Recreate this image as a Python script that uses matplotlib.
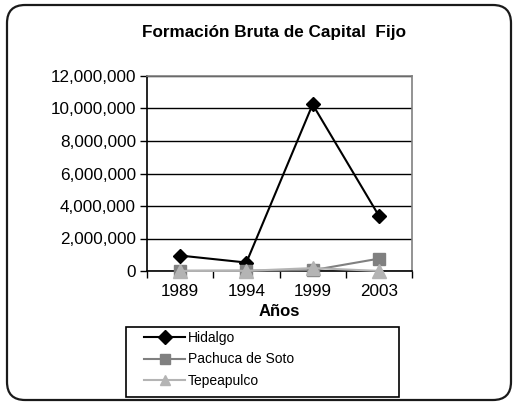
import matplotlib
matplotlib.use("Agg")
import matplotlib.pyplot as plt
from matplotlib.patches import FancyBboxPatch, Rectangle
from matplotlib.ticker import FuncFormatter, FixedLocator

plt.rcParams['font.family'] = ['Liberation Sans', 'DejaVu Sans']

years = ["1989", "1994", "1999", "2003"]
hidalgo = [950000, 520000, 10250000, 3400000]
pachuca = [10000, 20000, 50000, 760000]
tepeapulco = [5000, 10000, 180000, 5000]
series_names = ["Hidalgo", "Pachuca de Soto", "Tepeapulco"]
y_ticks = [0, 2000000, 4000000, 6000000, 8000000, 10000000, 12000000]

W, H = 518, 405
fig = plt.figure(figsize=(W / 100, H / 100), dpi=100)

# rounded outer border
border = FancyBboxPatch((7 / W, 5 / H), (511 - 7) / W, (400 - 5) / H,
                        boxstyle="round,pad=0,rounding_size=0.035",
                        mutation_aspect=W / H,
                        transform=fig.transFigure, fill=False,
                        edgecolor='#1a1a1a', linewidth=1.6)
fig.patches.append(border)

ax = fig.add_axes([147 / W, (H - 271) / H, 265 / W, (271 - 76) / H])
x = list(range(len(years)))

ax.plot(x, hidalgo, color='black', lw=1.5, marker='D', markersize=7.5,
        label=series_names[0], zorder=3, clip_on=False)
ax.plot(x, pachuca, color='#808080', lw=1.5, marker='s', markersize=8,
        label=series_names[1], zorder=4, clip_on=False)
ax.plot(x, tepeapulco, color='#b4b4b4', lw=1.5, marker='^', markersize=9.5,
        label=series_names[2], zorder=5, clip_on=False)

ax.set_xlim(-0.5, 3.5)
ax.set_ylim(0, 12000000)
ax.yaxis.set_major_locator(FixedLocator(y_ticks))
ax.yaxis.set_major_formatter(FuncFormatter(lambda v, p: f"{int(v):,}"))
ax.set_xticks(x)
ax.set_xticklabels(years)
ax.set_xticks([-0.5, 0.5, 1.5, 2.5, 3.5], minor=True)
ax.tick_params(axis='x', which='major', length=0, labelsize=12.3, pad=9)
ax.tick_params(axis='x', which='minor', length=5, width=1, color='black')
ax.tick_params(axis='y', which='major', length=5, width=1, color='black',
               labelsize=12.3, pad=3)
ax.grid(axis='y', color='black', lw=1)
ax.set_axisbelow(True)
for s in ['top', 'right']:
    ax.spines[s].set_color('#808080')
    ax.spines[s].set_linewidth(1.2)
for s in ['left', 'bottom']:
    ax.spines[s].set_color('black')
    ax.spines[s].set_linewidth(1.2)

fig.text(274 / W, 1 - 33 / H, "Formación Bruta de Capital  Fijo",
         ha='center', va='center', fontsize=12.3, fontweight='bold')
fig.text(279 / W, 1 - 312 / H, "Años", ha='center', va='center',
         fontsize=12, fontweight='bold')

# legend box
fig.patches.append(Rectangle((126 / W, 1 - 397 / H), (399 - 126) / W, (397 - 327) / H,
                             transform=fig.transFigure, fill=False,
                             edgecolor='black', linewidth=1.2))
handles, labels = ax.get_legend_handles_labels()
leg = fig.legend(handles, labels, loc='upper left',
                 bbox_to_anchor=(141 / W, 1 - 328 / H), frameon=False,
                 fontsize=10, handlelength=3.0, handletextpad=0.15,
                 labelspacing=0.55, borderpad=0.2, borderaxespad=0)
for lh in leg.legend_handles:
    lh.set_markersize(7)

fig.savefig("out.png", dpi=100)
